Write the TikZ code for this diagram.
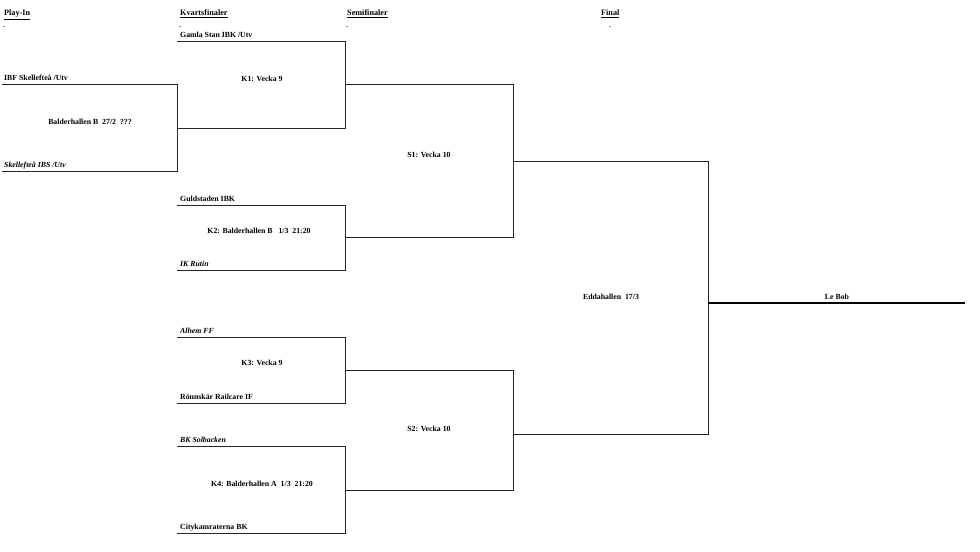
\documentclass[tikz,border=0pt]{standalone}
\usepackage{fontspec}
\setmainfont{Liberation Serif}
\begin{document}
\begin{tikzpicture}[x=1bp,y=-1bp,
  txt/.style={inner sep=0pt,font=\fontsize{7.8bp}{9bp}\selectfont\bfseries},
  lbl/.style={txt,anchor=base west},
  ilbl/.style={lbl,font=\fontsize{7.8bp}{9bp}\selectfont\bfseries\itshape},
  ctr/.style={txt,anchor=center},
  hdr/.style={inner sep=0pt,anchor=base west,font=\fontsize{8.2bp}{9bp}\selectfont\bfseries},
  dsh/.style={inner sep=0pt,anchor=base west,font=\fontsize{7bp}{9bp}\selectfont},
  bline/.style={draw=black!85,line width=0.9bp},
  fline/.style={draw=black,line width=2.6bp}]
\useasboundingbox (0,0) rectangle (980,552);
\fill[white] (0,0) rectangle (980,552);
% headers
\node[hdr] (h1) at (4,16) {\underline{Play-In}};
\node[hdr] (h2) at (180,16) {\underline{Kvartsfinaler}};
\node[hdr] (h3) at (347,16) {\underline{Semifinaler}};
\node[hdr] (h4) at (601,16) {\underline{Final}};
\node[dsh] (d1) at (3,29) {-};
\node[dsh] (d2) at (179,29) {-};
\node[dsh] (d3) at (346,29) {-};
\node[dsh] (d4) at (609,29) {-};
% coordinates
\coordinate (pt) at (2,84);   \coordinate (ptr) at (177,84);
\coordinate (pb) at (2,171);  \coordinate (pbr) at (177,171);
\coordinate (k1t) at (177,41); \coordinate (k1tr) at (345,41);
\coordinate (k1b) at (177,128); \coordinate (k1br) at (345,128);
\coordinate (k2t) at (177,205); \coordinate (k2tr) at (345,205);
\coordinate (k2b) at (177,270); \coordinate (k2br) at (345,270);
\coordinate (k3t) at (177,337); \coordinate (k3tr) at (345,337);
\coordinate (k3b) at (177,403); \coordinate (k3br) at (345,403);
\coordinate (k4t) at (177,446); \coordinate (k4tr) at (345,446);
\coordinate (k4b) at (177,533); \coordinate (k4br) at (345,533);
\coordinate (k1o) at (345,84);  \coordinate (s1t) at (513,84);
\coordinate (k2o) at (345,237); \coordinate (s1b) at (513,237);
\coordinate (k3o) at (345,370); \coordinate (s2t) at (513,370);
\coordinate (k4o) at (345,490); \coordinate (s2b) at (513,490);
\coordinate (s1o) at (513,161); \coordinate (ft) at (708,161);
\coordinate (s2o) at (513,434); \coordinate (fb) at (708,434);
\coordinate (fo) at (708,303);  \coordinate (win) at (965,303);
% bracket lines
\draw[bline] (pt) -- (ptr) -- (pbr) -- (pb);
\draw[bline] (k1t) -- (k1tr) -- (k1br) -- (k1b);
\draw[bline] (k2t) -- (k2tr) -- (k2br) -- (k2b);
\draw[bline] (k3t) -- (k3tr) -- (k3br) -- (k3b);
\draw[bline] (k4t) -- (k4tr) -- (k4br) -- (k4b);
\draw[bline] (k1o) -- (s1t) -- (s1b) -- (k2o);
\draw[bline] (k3o) -- (s2t) -- (s2b) -- (k4o);
\draw[bline] (s1o) -- (ft) -- (fb) -- (s2o);
\draw[fline] (fo) -- (win);
% team labels
\node[lbl] (t1) at (4,80.5) {IBF Skellefteå /Utv};
\node[ilbl] (t2) at (4,167.5) {Skellefteå IBS /Utv};
\node[lbl] (t3) at (180,37.5) {Gamla Stan IBK /Utv};
\node[lbl] (t4) at (180,201.5) {Guldstaden IBK};
\node[ilbl] (t5) at (180,266.5) {IK Rutin};
\node[ilbl] (t6) at (180,333.5) {Alhem FF};
\node[lbl] (t7) at (180,399.5) {Rönnskär Railcare IF};
\node[ilbl] (t8) at (180,442.5) {BK Solbacken};
\node[lbl] (t9) at (180,529.5) {Citykamraterna BK};
% match labels
\node[ctr] (m0) at (90,122) {Balderhallen B\ \ 27/2\ \ ???};
\node[ctr] (m1) at (262,79) {K1: Vecka 9};
\node[ctr] (m2) at (259,231) {K2: Balderhallen B\ \ \ 1/3\ \ 21:20};
\node[ctr] (m3) at (262,363) {K3: Vecka 9};
\node[ctr] (m4) at (262,484) {K4: Balderhallen A\ \ 1/3\ \ 21:20};
\node[ctr] (m5) at (429,155) {S1: Vecka 10};
\node[ctr] (m6) at (429,429) {S2: Vecka 10};
\node[ctr] (m7) at (611,297) {Eddahallen\ \ 17/3};
\node[ctr] (m8) at (837,297) {Le Bob};
\end{tikzpicture}
\end{document}
